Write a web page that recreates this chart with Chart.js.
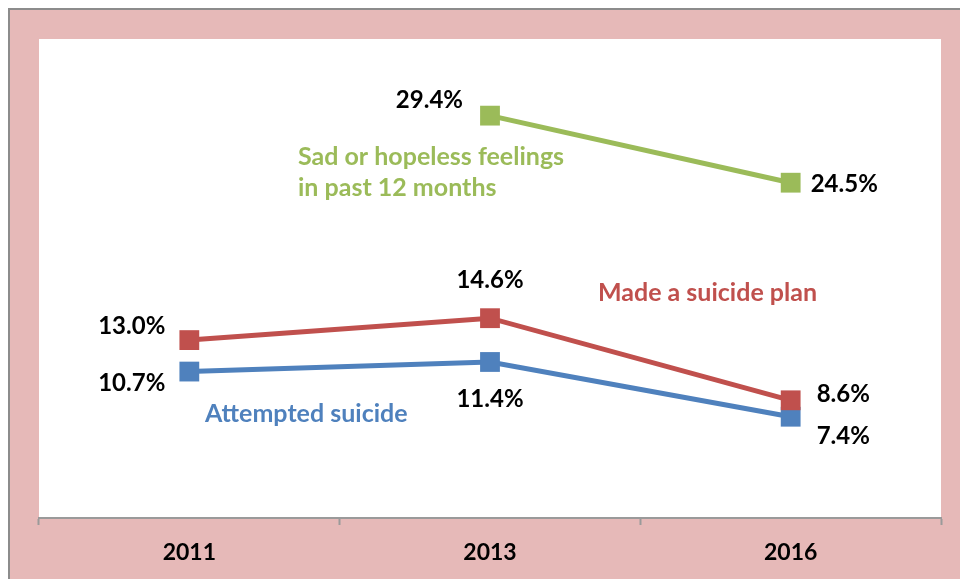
<!DOCTYPE html>
<html>
<head>
<meta charset="utf-8">
<script src="https://cdn.jsdelivr.net/npm/chart.js@4"></script>
<style>
  body { margin: 0; background: #fff; }
  #frame {
    position: absolute; left: 8px; top: 8px;
    width: 950px; height: 569px;
    border-left: 2px solid #8c8c8c; border-top: 2px solid #8c8c8c;
    background: #e6b9b8;
  }
  canvas { display: block; }
</style>
</head>
<body>
<div id="frame"><canvas id="survey-chart" width="950" height="569"></canvas></div>
<script>
const years = ['2011', '2013', '2016'];
const sadValues = [null, 29.4, 24.5];
const planValues = [13.0, 14.6, 8.6];
const attemptValues = [10.7, 11.4, 7.4];
const seriesNames = ['Sad or hopeless feelings\nin past 12 months', 'Made a suicide plan', 'Attempted suicide'];

const GREEN = '#9bbb59';
const RED = '#c0504d';
const BLUE = '#4f81bd';
const FONT = 'Lato, "Open Sans", sans-serif';

// where each value label sits relative to its marker (dataset -> point)
const labelPlace = [
  [null, { dx: -27, dy: -15, align: 'right' }, { dx: 20, dy: 2, align: 'left' }],
  [{ dx: -24, dy: -14, align: 'right' }, { dx: 0, dy: -38, align: 'center' }, { dx: 26, dy: -6, align: 'left' }],
  [{ dx: -24, dy: 12, align: 'right' }, { dx: 0, dy: 37, align: 'center' }, { dx: 26, dy: 20, align: 'left' }]
];

// series name positions inside the plot area (px from chart area left/top)
const namePlace = [
  { x: 259, y: 118, lineH: 31 },
  { x: 559, y: 254 },
  { x: 166, y: 375 }
];

const plotBackground = {
  id: 'plotBackground',
  beforeDraw(chart) {
    const a = chart.chartArea;
    const ctx = chart.ctx;
    ctx.save();
    ctx.fillStyle = '#ffffff';
    ctx.fillRect(a.left, a.top, a.right - a.left, a.bottom - a.top);
    ctx.restore();
  }
};

const valueLabels = {
  id: 'valueLabels',
  afterDatasetsDraw(chart) {
    const ctx = chart.ctx;
    const a = chart.chartArea;
    ctx.save();
    ctx.font = 'bold 24px ' + FONT;
    ctx.textBaseline = 'middle';
    ctx.fillStyle = '#000';
    chart.data.datasets.forEach(function(ds, i) {
      chart.getDatasetMeta(i).data.forEach(function(pt, j) {
        const v = ds.data[j];
        const p = labelPlace[i][j];
        if (v == null || !p) return;
        ctx.textAlign = p.align;
        ctx.fillText(v.toFixed(1) + '%', pt.x + p.dx, pt.y + p.dy);
      });
    });
    // series names
    ctx.font = 'bold 25px ' + FONT;
    ctx.textAlign = 'left';
    chart.data.datasets.forEach(function(ds, i) {
      const n = namePlace[i];
      ctx.fillStyle = ds.borderColor;
      seriesNames[i].split('\n').forEach(function(line, k) {
        ctx.fillText(line, a.left + n.x, a.top + n.y + k * (n.lineH || 0));
      });
    });
    ctx.restore();
  }
};

function makeSet(data, color) {
  return {
    data: data,
    borderColor: color,
    backgroundColor: color,
    borderWidth: 5,
    pointStyle: 'rect',
    pointRadius: 14,
    pointHoverRadius: 14,
    pointBorderWidth: 0,
    tension: 0,
    spanGaps: false
  };
}

const ctx = document.getElementById('survey-chart').getContext('2d');
const myChart = new Chart(ctx, {
  type: 'line',
  data: {
    labels: years,
    datasets: [
      makeSet(sadValues, GREEN),
      makeSet(planValues, RED),
      makeSet(attemptValues, BLUE)
    ]
  },
  options: {
    responsive: false,
    animation: false,
    layout: { padding: { left: 29, right: 19, top: 29, bottom: 0 } },
    plugins: {
      legend: { display: false },
      tooltip: { enabled: false }
    },
    scales: {
      x: {
        offset: true,
        grid: {
          offset: true,
          drawOnChartArea: false,
          tickLength: 7,
          tickWidth: 2,
          color: '#9a9a9a'
        },
        border: { color: '#9a9a9a', width: 2 },
        ticks: {
          color: '#000',
          padding: 14,
          font: { family: FONT, size: 23, weight: 'bold' }
        },
        afterFit(scale) { scale.height = 61; }
      },
      y: {
        display: false,
        min: 0,
        max: 35
      }
    }
  },
  plugins: [plotBackground, valueLabels]
});
</script>
</body>
</html>
